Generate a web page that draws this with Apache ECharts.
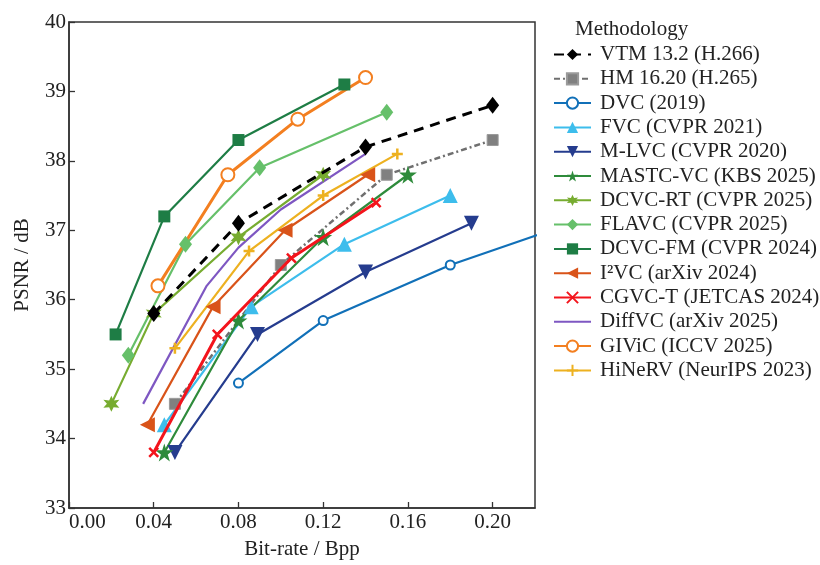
<!DOCTYPE html>
<html>
<head>
<meta charset="utf-8">
<script src="https://cdn.jsdelivr.net/npm/echarts@6/dist/echarts.min.js"></script>
<style>html,body{margin:0;padding:0;background:#fff}#c{width:820px;height:565px}</style>
</head>
<body>
<div id="c"></div>
<script>
// ---- data (bit-rate in Bpp, PSNR in dB) ----
const names = ['VTM 13.2 (H.266)','HM 16.20 (H.265)','DVC (2019)','FVC (CVPR 2021)','M-LVC (CVPR 2020)','MASTC-VC (KBS 2025)','DCVC-RT (CVPR 2025)','FLAVC (CVPR 2025)','DCVC-FM (CVPR 2024)','I\u00B2VC (arXiv 2024)','CGVC-T (JETCAS 2024)','DiffVC (arXiv 2025)','GIViC (ICCV 2025)','HiNeRV (NeurIPS 2023)'];
const vtmRate = [0.040, 0.080, 0.140, 0.200];
const vtmPsnr = [35.8, 37.1, 38.2, 38.8];
const hmRate = [0.050, 0.100, 0.150, 0.200];
const hmPsnr = [34.5, 36.5, 37.8, 38.3];
const dvcRate = [0.080, 0.120, 0.180, 0.260];
const dvcPsnr = [34.8, 35.7, 36.5, 37.34];
const fvcRate = [0.045, 0.086, 0.130, 0.180];
const fvcPsnr = [34.2, 35.9, 36.8, 37.5];
const mlvcRate = [0.050, 0.089, 0.140, 0.190];
const mlvcPsnr = [33.8, 35.5, 36.4, 37.1];
const mastcRate = [0.045, 0.080, 0.120, 0.160];
const mastcPsnr = [33.8, 35.7, 36.9, 37.8];
const dcvcrtRate = [0.020, 0.040, 0.080, 0.120];
const dcvcrtPsnr = [34.5, 35.8, 36.9, 37.8];
const flavcRate = [0.028, 0.055, 0.090, 0.150];
const flavcPsnr = [35.2, 36.8, 37.9, 38.7];
const dcvcfmRate = [0.022, 0.045, 0.080, 0.130];
const dcvcfmPsnr = [35.5, 37.2, 38.3, 39.1];
const i2vcRate = [0.037, 0.068, 0.102, 0.141];
const i2vcPsnr = [34.2, 35.9, 37.0, 37.8];
const cgvcRate = [0.040, 0.070, 0.105, 0.145];
const cgvcPsnr = [33.8, 35.5, 36.6, 37.4];
const diffRate = [0.035, 0.065, 0.080, 0.100, 0.140];
const diffPsnr = [34.5, 36.2, 36.75, 37.3, 38.1];
const givicRate = [0.042, 0.075, 0.108, 0.140];
const givicPsnr = [36.2, 37.8, 38.6, 39.2];
const hinervRate = [0.050, 0.085, 0.120, 0.155];
const hinervPsnr = [35.3, 36.7, 37.5, 38.1];
const xTicks = [0, 0.22, 0.04];
const yTicks = [33, 40, 1];

const zip = (a, b) => a.map((v, i) => [v, b[i]]);
const FONT = 'Liberation Serif';
const STAR5 = 'path://M50,0 L61.2,34.5 L97.6,34.5 L68.2,55.9 L79.4,90.5 L50,69.1 L20.6,90.5 L31.8,55.9 L2.4,34.5 L38.8,34.5 Z';
const STAR6 = 'path://M50,0 L62,29 L93,25 L74,50 L93,75 L62,71 L50,100 L38,71 L7,75 L26,50 L7,25 L38,29 Z';
const XMARK = 'path://M0,0 L100,100 M100,0 L0,100';
const PLUS = 'path://M50,0 L50,100 M0,50 L100,50';

function mk(i, rate, psnr, color, opt) {
  const s = {
    name: names[i], type: 'line', data: zip(rate, psnr),
    symbol: opt.symbol || 'none', symbolSize: opt.size || 10,
    showAllSymbol: true,
    lineStyle: { color: color, width: opt.width || 2.2, type: opt.dash || 'solid' },
    itemStyle: { color: opt.fill || color, borderColor: opt.border || color, borderWidth: opt.bw || 0 },
    emphasis: { disabled: true },
    z: opt.z || 2
  };
  if (opt.rotate !== undefined) s.symbolRotate = opt.rotate;
  return s;
}

const series = [
  mk(0, vtmRate, vtmPsnr, '#000000', { symbol: 'diamond', size: [13, 17], width: 3, dash: [10, 7], z: 3 }),
  mk(1, hmRate, hmPsnr, '#6f6f6f', { symbol: 'rect', size: 11, width: 2.5, dash: [6, 3, 2, 3], fill: '#808080', border: '#9a9a9a', bw: 1 }),
  mk(2, dvcRate, dvcPsnr, '#1170B8', { symbol: 'emptyCircle', size: 9, width: 2.2, bw: 2 }),
  mk(3, fvcRate, fvcPsnr, '#3DBDEC', { symbol: 'triangle', size: 15, width: 2.2 }),
  mk(4, mlvcRate, mlvcPsnr, '#253C8E', { symbol: 'triangle', size: 15, width: 2.2, rotate: 180 }),
  mk(5, mastcRate, mastcPsnr, '#2E8B3B', { symbol: STAR5, size: 18, width: 2.2 }),
  mk(6, dcvcrtRate, dcvcrtPsnr, '#77AC30', { symbol: STAR6, size: 16, width: 2.2 }),
  mk(7, flavcRate, flavcPsnr, '#66C06A', { symbol: 'diamond', size: [13, 17], width: 2.2 }),
  mk(8, dcvcfmRate, dcvcfmPsnr, '#1E7D45', { symbol: 'rect', size: 12, width: 2.2 }),
  mk(9, i2vcRate, i2vcPsnr, '#D95319', { symbol: 'triangle', size: 15, width: 2.2, rotate: 90 }),
  mk(10, cgvcRate, cgvcPsnr, '#F3141C', { symbol: XMARK, size: 9, width: 3, fill: 'none', border: '#F3141C', bw: 2.5, z: 4 }),
  mk(11, diffRate, diffPsnr, '#7E57C2', { symbol: 'none', width: 2.2 }),
  mk(12, givicRate, givicPsnr, '#F37F20', { symbol: 'emptyCircle', size: 13, width: 3, bw: 2.5 }),
  mk(13, hinervRate, hinervPsnr, '#EDB120', { symbol: PLUS, size: 11, width: 2.2, fill: 'none', border: '#EDB120', bw: 2.5 })
];

const legendData = names.map(n => n === names[11]
  ? { name: n, itemStyle: { opacity: 0 } }
  : { name: n });

const chart = echarts.init(document.getElementById('c'), null, { renderer: 'canvas' });
chart.setOption({
  animation: false,
  backgroundColor: '#ffffff',
  textStyle: { fontFamily: FONT },
  title: {
    text: 'Methodology', left: 570, top: 14,
    textStyle: { fontFamily: FONT, fontSize: 21, fontWeight: 'normal', color: '#222' }
  },
  legend: {
    orient: 'vertical', left: 548, top: 39,
    itemWidth: 37, itemHeight: 14, itemGap: 3.3,
    data: legendData,
    textStyle: { fontFamily: FONT, fontSize: 21, lineHeight: 21, color: '#222', padding: [0, 0, 0, 4] },
    selectedMode: false
  },
  grid: { left: 69, right: 285, top: 22, bottom: 53, show: true, borderColor: '#333', borderWidth: 1.5, containLabel: false },
  xAxis: {
    type: 'value', min: xTicks[0], max: xTicks[1], interval: xTicks[2],
    name: 'Bit-rate / Bpp', nameLocation: 'middle', nameGap: 31,
    nameTextStyle: { fontFamily: FONT, fontSize: 21, color: '#222' },
    axisLine: { show: true, lineStyle: { color: '#333', width: 1.5 } },
    axisTick: { show: true, inside: true, length: 6, lineStyle: { color: '#333', width: 1.3 } },
    axisLabel: { fontFamily: FONT, fontSize: 21, color: '#222', margin: 4, alignMinLabel: 'left',
      formatter: v => v.toFixed(2), showMaxLabel: false },
    splitLine: { show: false }
  },
  yAxis: {
    type: 'value', min: yTicks[0], max: yTicks[1], interval: yTicks[2],
    name: 'PSNR / dB', nameLocation: 'middle', nameGap: 36,
    nameTextStyle: { fontFamily: FONT, fontSize: 21, color: '#222' },
    axisLine: { show: true, lineStyle: { color: '#333', width: 1.5 } },
    axisTick: { show: true, inside: true, length: 6, lineStyle: { color: '#333', width: 1.3 } },
    axisLabel: { fontFamily: FONT, fontSize: 21, color: '#222', margin: 3 },
    splitLine: { show: false }
  },
  series: series
});
</script>
</body>
</html>
